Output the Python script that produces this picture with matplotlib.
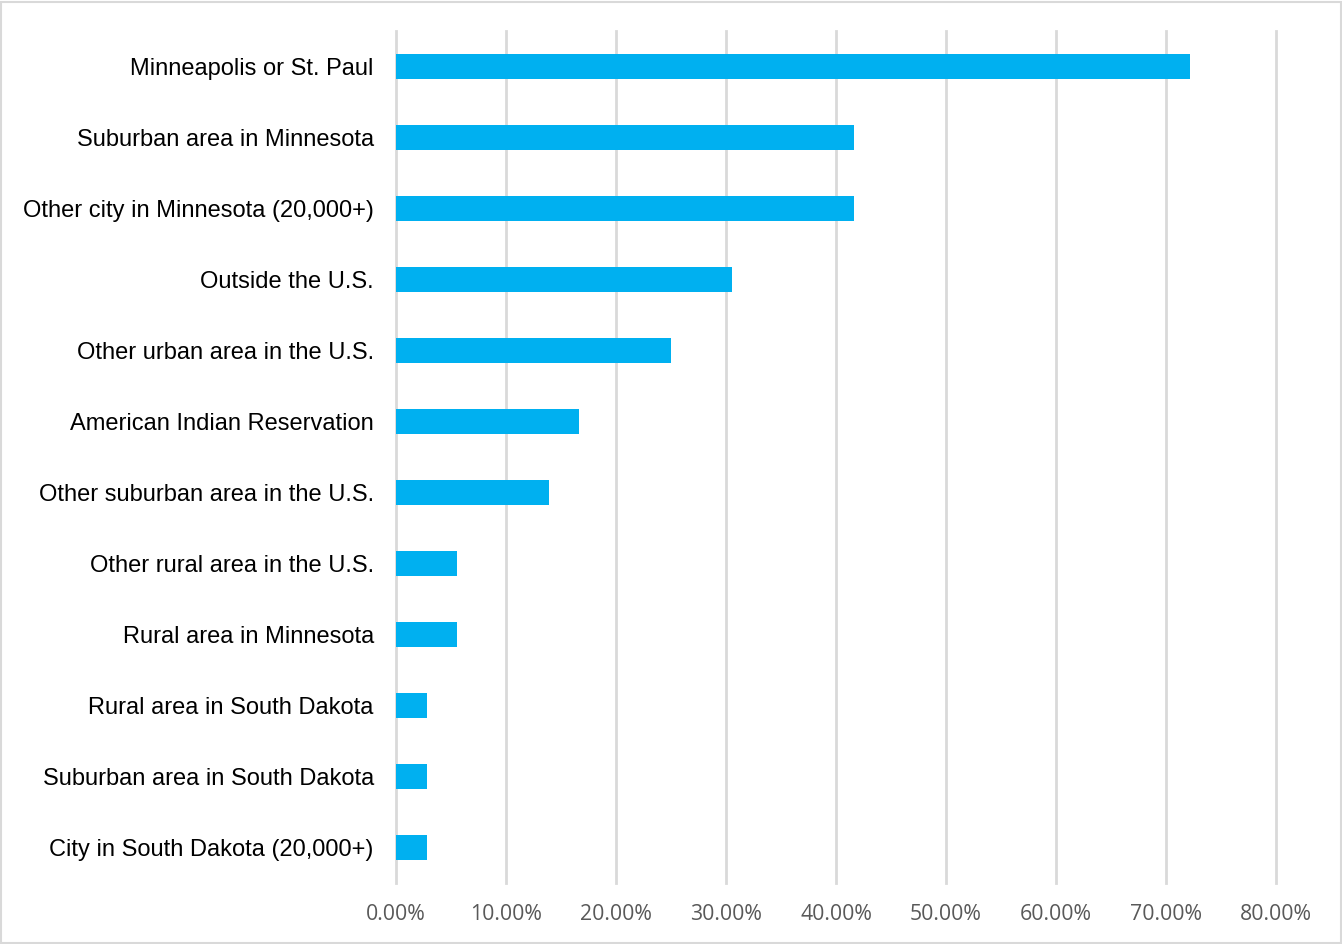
import matplotlib.pyplot as plt
from matplotlib.patches import Rectangle
from matplotlib.ticker import PercentFormatter

# answers out of 36 respondents, shares listed top to bottom
places = ['Minneapolis or St. Paul', 'Suburban area in Minnesota',
          'Other city in Minnesota (20,000+)', 'Outside the U.S.',
          'Other urban area in the U.S.', 'American Indian Reservation',
          'Other suburban area in the U.S.', 'Other rural area in the U.S.',
          'Rural area in Minnesota', 'Rural area in South Dakota',
          'Suburban area in South Dakota', 'City in South Dakota (20,000+)']
shares = [0.7222, 0.4167, 0.4167, 0.3056, 0.25, 0.1667,
          0.1389, 0.0556, 0.0556, 0.0278, 0.0278, 0.0278]
x_ticks = [0.0, 0.1, 0.2, 0.3, 0.4, 0.5, 0.6, 0.7, 0.8]

fig = plt.figure(figsize=(13.42, 9.44), dpi=100)
ax = fig.add_axes([396 / 1342, 1 - 883 / 944, 880 / 1342, 852 / 944])

y = list(range(len(places)))[::-1]
ax.barh(y, shares, height=0.35, color='#00B0F0', zorder=3)

ax.set_xlim(0, 0.8)
ax.set_ylim(-0.5, len(places) - 0.5)
ax.set_xticks(x_ticks)
ax.xaxis.set_major_formatter(PercentFormatter(1.0, decimals=2))
ax.set_yticks(y)
ax.set_yticklabels(places, fontfamily='Liberation Sans', fontsize=17, color='black')
for lab in ax.get_xticklabels():
    lab.set_fontfamily('Open Sans')
    lab.set_fontsize(15.3)
    lab.set_color('#595959')

ax.grid(axis='x', color='#D9D9D9', linewidth=2, zorder=0)
for g in ax.get_xgridlines():
    g.set_clip_on(False)
ax.tick_params(axis='both', length=0)
ax.tick_params(axis='y', pad=16)
ax.tick_params(axis='x', pad=15)
for s in ax.spines.values():
    s.set_visible(False)

fig.patches.append(Rectangle((0.001, 0.001), 0.998, 0.997, transform=fig.transFigure,
                             fill=False, edgecolor='#D9D9D9', linewidth=1.5))

fig.savefig('out.png', dpi=100)
